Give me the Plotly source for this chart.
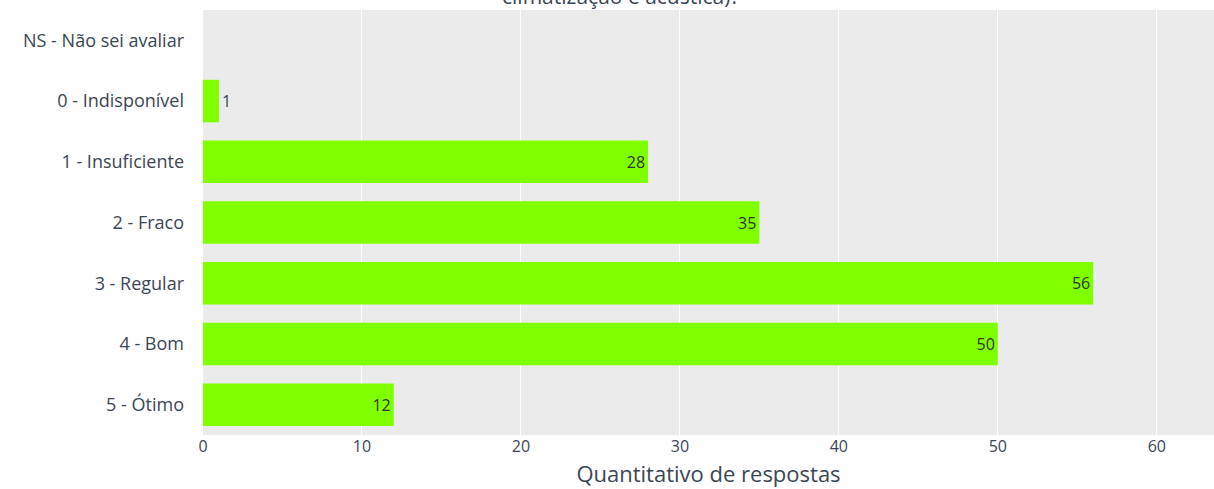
import plotly.graph_objects as go

categories = ["5 - Ótimo", "4 - Bom", "3 - Regular", "2 - Fraco", "1 - Insuficiente", "0 - Indisponível", "NS - Não sei avaliar"]
values = [12, 50, 56, 35, 28, 1, None]
x_ticks = [0, 10, 20, 30, 40, 50, 60]
title_text = "climatização e acústica)?"
x_title = "Quantitativo de respostas"

FONT = "Open Sans"
TXT = "#3b4654"

text_pos = ["outside" if (v is not None and v < 3) else "inside" for v in values]

fig = go.Figure(go.Bar(
    x=values, y=categories, orientation="h",
    marker=dict(color="#7FFF00", line=dict(width=0)),
    text=values, textposition=text_pos,
    textfont=dict(family=FONT, size=16, color="#333333"),
    insidetextfont=dict(family=FONT, size=16, color="#333333"),
    outsidetextfont=dict(family=FONT, size=16, color=TXT),
    cliponaxis=False,
    width=0.7,
))

fig.update_layout(
    width=1214, height=489,
    margin=dict(l=203, r=0, t=10, b=54),
    paper_bgcolor="white", plot_bgcolor="#EBEBEB",
    font=dict(family=FONT, size=16, color=TXT),
    showlegend=False,
    xaxis=dict(range=[0, 63.6], tickvals=x_ticks, gridcolor="white", gridwidth=1,
               zeroline=False, showline=False, ticks="",
               title=dict(text=x_title, font=dict(size=22, color=TXT), standoff=10),
               tickfont=dict(size=16, color=TXT)),
    yaxis=dict(categoryorder="array", categoryarray=categories, showgrid=False,
               ticks="", tickfont=dict(size=18, color=TXT), ticklabelstandoff=18),
    annotations=[dict(text=title_text, xref="paper", yref="paper", x=0.4135, y=1,
                      xanchor="center", yanchor="bottom", yshift=-2, showarrow=False,
                      font=dict(family=FONT, size=21, color=TXT))],
)

fig.write_html("out.html", config={"displayModeBar": False},
               post_script="document.body.style.margin='0';document.body.style.overflow='hidden';")
